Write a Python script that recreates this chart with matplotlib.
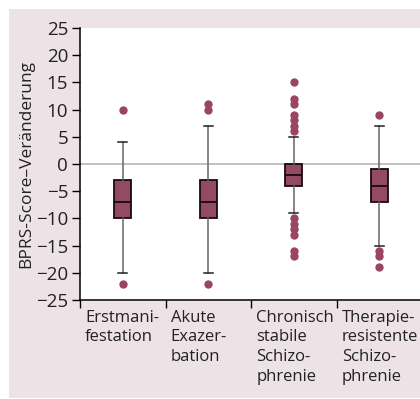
import numpy as np
import matplotlib
matplotlib.use('Agg')
import matplotlib.pyplot as plt
from matplotlib.patches import Rectangle

plt.rcParams['font.family'] = ['Open Sans', 'DejaVu Sans']

# groups and box statistics (BPRS score change)
groups  = ['Erstmani-\nfestation', 'Akute\nExazer-\nbation',
           'Chronisch\nstabile\nSchizo-\nphrenie', 'Therapie-\nresistente\nSchizo-\nphrenie']
q1      = [-10, -10, -4, -7]
median  = [-7, -7, -2, -4]
q3      = [-3, -3, 0, -1]
wlow    = [-20, -20, -9, -15]
whigh   = [4, 7, 5, 7]
fliers  = [[10, -22],
           [10, 11, -22],
           [15, 12, 11, 9, 8, 7, 6, -10, -11, -12, -13, -16, -17],
           [9, -16, -17, -19]]

yticks = np.arange(-25, 30, 5)

W, H = 420, 399
fig = plt.figure(figsize=(W/100, H/100), dpi=100)
fig.patch.set_facecolor('white')
# shaded panel behind the chart
fig.patches.append(Rectangle((9/W, 1/H), 1, 1 - 10/H, transform=fig.transFigure,
                             facecolor='#ede3e7', edgecolor='none', zorder=-5))

ax = fig.add_axes([80/W, 1 - 300/H, 342/W, 272/H])
ax.set_facecolor('white')

stats = []
for i in range(len(groups)):
    stats.append(dict(med=median[i], q1=q1[i], q3=q3[i],
                      whislo=wlow[i], whishi=whigh[i], fliers=fliers[i]))

box_col = '#934a63'
ax.bxp(stats, positions=np.arange(len(groups)), widths=0.2, patch_artist=True,
       boxprops=dict(facecolor=box_col, edgecolor='#1a0a10', linewidth=1.3),
       medianprops=dict(color='#1a0a10', linewidth=1.3),
       whiskerprops=dict(color='#666666', linewidth=1.1),
       capprops=dict(color='#222222', linewidth=1.1),
       flierprops=dict(marker='o', markerfacecolor='#9a4562', markeredgecolor='none',
                       markersize=6),
       zorder=3)

ax.axhline(0, color='#b0b0b0', linewidth=1.1, zorder=1)

ax.set_xlim(-0.5, len(groups) - 0.5)
ax.set_ylim(-25, 25)
ax.set_yticks(yticks)
ax.tick_params(axis='y', labelsize=13.5, length=6, width=1, direction='out', pad=2.5,
               labelcolor='#222222')

# separator ticks between the groups, labels left-aligned beside them
ax.set_xticks(np.arange(len(groups)) - 0.5)
ax.set_xticklabels([])
ax.tick_params(axis='x', length=6, width=1, direction='out')
for i, g in enumerate(groups):
    ax.text(i - 0.5 + 0.06, -0.035, g, transform=ax.get_xaxis_transform(),
            ha='left', va='top', fontsize=12, color='#222222', linespacing=1.32)

for s in ['top', 'right']:
    ax.spines[s].set_visible(False)
for s in ['left', 'bottom']:
    ax.spines[s].set_linewidth(1.1)
    ax.spines[s].set_color('black')

ax.set_ylabel('BPRS-Score–Veränderung', fontsize=12.5, color='#222222', labelpad=1)

fig.savefig('out.png', dpi=100)
